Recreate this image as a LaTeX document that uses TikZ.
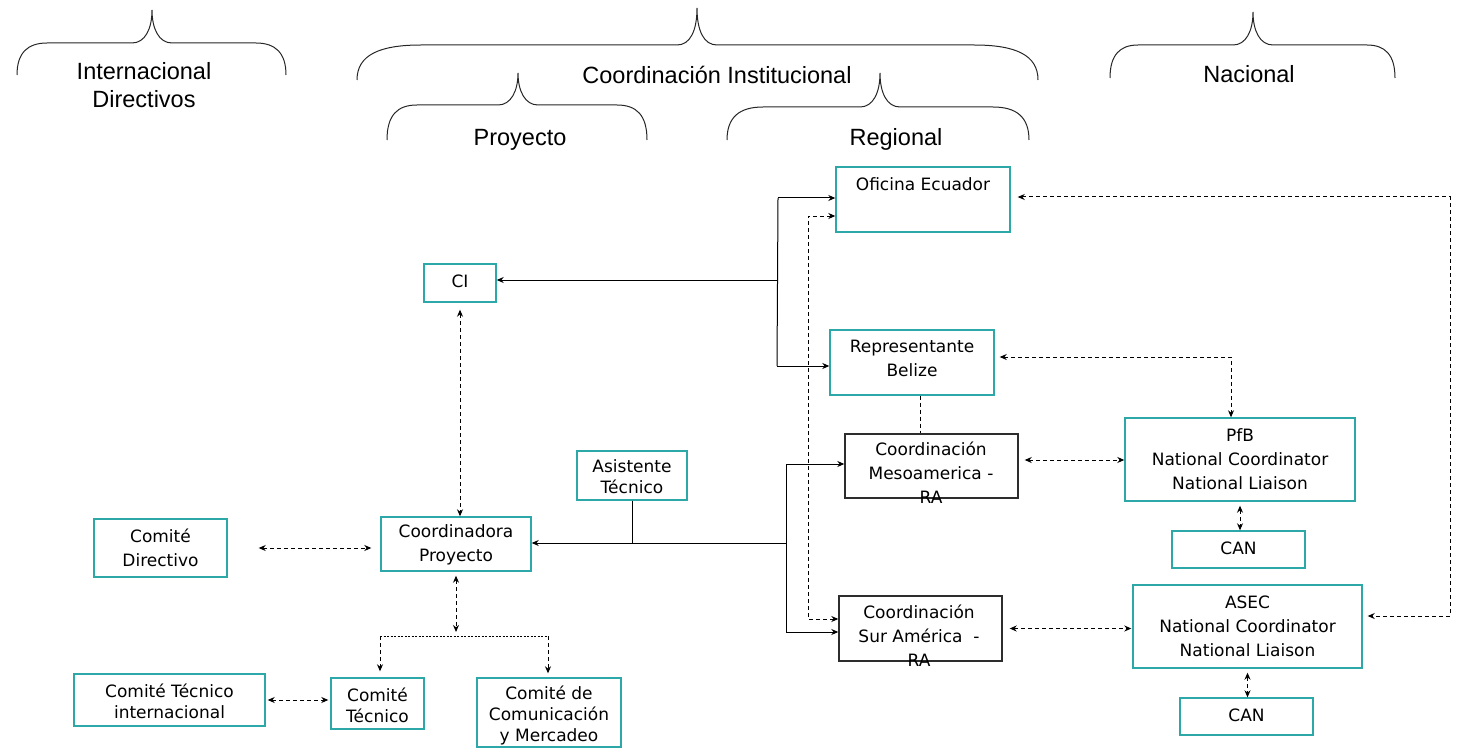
\documentclass[tikz,border=0pt]{standalone}
\usepackage{fontspec}
\setmainfont{DejaVu Sans}
\newfontfamily\arialf{Liberation Sans}
\usetikzlibrary{arrows.meta}
\definecolor{tealc}{RGB}{45,168,168}
\definecolor{darkc}{RGB}{45,45,45}
\newcommand\cbrace[7]{%
  \draw[bracestyle] (#1,#6) .. controls (#1,{#5+10}) and ({#1+0.35*#7},#5) .. ({#1+#7},#5)
    -- ({#3-20},#5) .. controls ({#3-7},#5) and (#3,{#5-14}) .. (#3,#4)
    .. controls (#3,{#5-14}) and ({#3+7},#5) .. ({#3+20},#5)
    -- ({#2-#7},#5) .. controls ({#2-0.35*#7},#5) and (#2,{#5+10}) .. (#2,#6);}
\begin{document}
\begin{tikzpicture}[x=1pt,y=-1pt,
  tbox/.style={draw=tealc, line width=1.4pt, inner sep=0pt, rectangle},
  kbox/.style={draw=darkc, line width=1.4pt, inner sep=0pt, rectangle},
  txt/.style={font=\fontsize{17}{24}\selectfont, align=center, inner sep=0pt},
  txts/.style={font=\fontsize{17}{21}\selectfont, align=center, inner sep=0pt},
  hdr/.style={font=\arialf\fontsize{23.5}{28}\selectfont, align=center, inner sep=0pt},
  sol/.style={line width=1pt, draw=black},
  dsh/.style={line width=1pt, dash pattern=on 4pt off 3pt},
  dot/.style={line width=1pt, dash pattern=on 2pt off 1.5pt},
  arr/.style={-{Stealth[length=7pt,width=6pt]}},
  darr/.style={{Stealth[length=7pt,width=6pt]}-{Stealth[length=7pt,width=6pt]}},
  bracestyle/.style={line width=1pt, draw=black!85}
]
\useasboundingbox (0,0) rectangle (1461,754);

% braces
\cbrace{17}{286}{152}{10}{43}{75}{30}
\cbrace{357}{1038}{697}{8}{45}{80}{64}
\cbrace{387}{647}{518}{73}{105}{140}{30}
\cbrace{727}{1029}{880}{73}{107}{140}{36}
\cbrace{1110}{1395}{1253}{12}{45}{78}{28}

% headers
\node[hdr] (hint) at (144,85) {Internacional\\Directivos};
\node[hdr] (hcoi) at (717,75) {Coordinación Institucional};
\node[hdr] (hpro) at (520,140) {Proyecto};
\node[hdr] (hreg) at (896,139) {Regional};
\node[hdr] (hnac) at (1249,74) {Nacional};

% boxes
\node[tbox, minimum width=174pt, minimum height=65pt] (ofi) at (923,199.5) {};
\node[tbox, minimum width=72pt, minimum height=38pt] (ci) at (460,283) {};
\node[tbox, minimum width=164pt, minimum height=65pt] (bel) at (912,362.5) {};
\node[kbox, minimum width=173pt, minimum height=64pt] (meso) at (931.5,466) {};
\node[tbox, minimum width=230pt, minimum height=83pt] (pfb) at (1240,459.5) {};
\node[tbox, minimum width=133pt, minimum height=37pt] (can1) at (1238.5,549.5) {};
\node[tbox, minimum width=229pt, minimum height=83pt] (asec) at (1247.5,626.5) {};
\node[tbox, minimum width=133pt, minimum height=37pt] (can2) at (1246.5,716.5) {};
\node[kbox, minimum width=163pt, minimum height=65pt] (sur) at (920.5,628.5) {};
\node[tbox, minimum width=110pt, minimum height=49pt] (asis) at (632,475.5) {};
\node[tbox, minimum width=150pt, minimum height=54pt] (coord) at (456,544) {};
\node[tbox, minimum width=133pt, minimum height=58pt] (cdir) at (160.5,548) {};
\node[tbox, minimum width=191pt, minimum height=52pt] (ctint) at (169.5,700) {};
\node[tbox, minimum width=93pt, minimum height=51pt] (ctec) at (377.5,703.5) {};
\node[tbox, minimum width=144pt, minimum height=69pt] (ccom) at (549,712.5) {};

% texts
\node[txt] (tofi) at (923,184) {Oficina Ecuador};
\node[txt] (tci) at (460,281) {CI};
\node[txt] (tbel) at (912,358) {Representante\\Belize};
\node[txt] (tmeso) at (931,473) {Coordinación\\Mesoamerica -\\RA};
\node[txt] (tpfb) at (1240,459) {PfB\\National Coordinator\\National Liaison};
\node[txt] (tcan1) at (1238.5,548) {CAN};
\node[txt] (tasec) at (1247.5,626) {ASEC\\National Coordinator\\National Liaison};
\node[txt] (tcan2) at (1246.5,715) {CAN};
\node[txt] (tsur) at (919,636) {Coordinación\\Sur América \ -\\RA};
\node[txts] (tasis) at (632,476.5) {Asistente\\Técnico};
\node[txt] (tcoord) at (456,545) {Coordinadora\\Proyecto};
\node[txt] (tcdir) at (160.5,548) {Comité\\Directivo};
\node[txts] (tctint) at (169.5,701.5) {Comité Técnico\\internacional};
\node[txts] (tctec) at (377.5,705.5) {Comité\\Técnico};
\node[txts] (tccom) at (549,715) {Comité de\\Comunicación\\y Mercadeo};

% solid trunk to Oficina / Belize / CI
\coordinate (t1a) at (778,198);
\coordinate (t1b) at (777,366);
\coordinate (t1c) at (778,280);
\draw[sol] (t1a) -- (t1b);
\draw[sol,arr] (t1a) -- (t1a -| ofi.west);
\draw[sol,arr] (t1b) -- (t1b -| bel.west);
\draw[sol,arr] (t1c) -- (t1c -| ci.east);

% solid trunk to Meso / Sur / Coordinadora
\coordinate (t2a) at (786,464);
\coordinate (t2b) at (786,632);
\coordinate (t2c) at (786,543);
\draw[sol] (t2a) -- (t2b);
\draw[sol,arr] (t2a) -- (t2a -| meso.west);
\draw[sol,arr] (t2b) -- (t2b -| sur.west);
\draw[sol,arr] (t2c) -- (t2c -| coord.east);
\draw[sol] (asis.south) -- (asis.south |- t2c);

% dashed connectors
\draw[dsh,darr,shorten <=7pt] (ci.south) -- (ci.south |- coord.north);
\coordinate (d1) at (808,619);
\coordinate (d2) at (808,216);
\draw[dsh,darr] (d1 -| sur.west) -- (d1) -- (d2) -- (d2 -| ofi.west);
\draw[dsh] ([xshift=8pt]bel.south) -- ([xshift=8pt]bel.south |- meso.north);
\draw[dsh,darr,shorten <=6pt] ([yshift=6pt]meso.east) -- ([yshift=6pt]meso.east -| pfb.west);
\coordinate (c1) at (1231,357);
\draw[dsh,darr,shorten <=5pt] (c1 -| bel.east) -- (c1) -- (c1 |- pfb.north);
\draw[dsh,darr,shorten <=4pt] (pfb.south) -- (pfb.south |- can1.north);
\draw[dsh,darr,shorten <=7pt,shorten >=1pt] (sur.east) -- (sur.east -| asec.west);
\draw[dsh,darr,shorten <=4pt] (asec.south) -- (asec.south |- can2.north);
\coordinate (c2) at (1450,197);
\coordinate (c3) at (1450,616);
\draw[dsh,darr,shorten <=7pt,shorten >=5pt] (c2 -| ofi.east) -- (c2) -- (c3) -- (c3 -| asec.east);
\draw[dsh,darr,shorten <=31pt,shorten >=9pt] (cdir.east) -- (cdir.east -| coord.west);
\coordinate (s0) at (456,632);
\draw[dsh,darr,shorten <=4pt] (coord.south) -- (s0);
\coordinate (s1) at (380,636);
\coordinate (s2) at (548,636);
\draw[dot] (s1) -- (s2);
\draw[dsh,arr,shorten >=6pt] (s1) -- (s1 |- ctec.north);
\draw[dsh,arr,shorten >=4pt] (s2) -- (s2 |- ccom.north);
\draw[dsh,darr,shorten <=2pt,shorten >=2pt] (ctint.east) -- (ctint.east -| ctec.west);
\end{tikzpicture}
\end{document}
